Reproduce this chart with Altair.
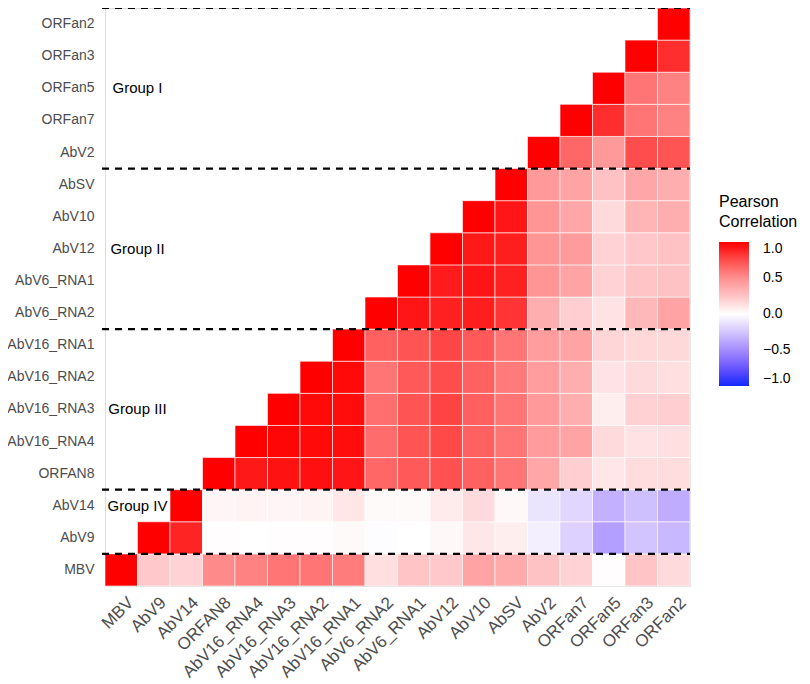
import altair as alt
import pandas as pd

order = ["MBV", "AbV9", "AbV14", "ORFAN8", "AbV16_RNA4", "AbV16_RNA3", "AbV16_RNA2",
         "AbV16_RNA1", "AbV6_RNA2", "AbV6_RNA1", "AbV12", "AbV10", "AbSV", "AbV2",
         "ORFan7", "ORFan5", "ORFan3", "ORFan2"]

# correlations of each row variable with itself and the variables to its right in `order`
r_MBV = [1.00, 0.22, 0.18, 0.52, 0.55, 0.60, 0.60, 0.57, 0.13, 0.24, 0.22, 0.40, 0.37, 0.25, 0.18, 0.01, 0.24, 0.15]
r_AbV9 = [1.00, 0.88, 0.01, 0.00, 0.01, 0.01, 0.02, -0.01, 0.00, 0.03, 0.10, 0.07, -0.07, -0.20, -0.42, -0.26, -0.31]
r_AbV14 = [1.00, 0.04, 0.05, 0.04, 0.05, 0.10, 0.02, 0.02, 0.08, 0.15, 0.03, -0.12, -0.18, -0.34, -0.28, -0.36]
r_ORFAN8 = [1.00, 0.92, 0.94, 0.95, 0.93, 0.65, 0.70, 0.73, 0.67, 0.60, 0.38, 0.20, 0.10, 0.14, 0.14]
r_AbV16_RNA4 = [1.00, 0.98, 0.97, 0.96, 0.63, 0.72, 0.76, 0.67, 0.60, 0.44, 0.40, 0.15, 0.12, 0.13]
r_AbV16_RNA3 = [1.00, 0.97, 0.96, 0.62, 0.72, 0.78, 0.68, 0.60, 0.45, 0.35, 0.07, 0.19, 0.20]
r_AbV16_RNA2 = [1.00, 0.97, 0.60, 0.70, 0.75, 0.67, 0.58, 0.43, 0.35, 0.12, 0.15, 0.13]
r_AbV16_RNA1 = [1.00, 0.67, 0.72, 0.77, 0.70, 0.60, 0.43, 0.40, 0.17, 0.16, 0.16]
r_AbV6_RNA2 = [1.00, 0.93, 0.89, 0.90, 0.83, 0.35, 0.20, 0.12, 0.30, 0.40]
r_AbV6_RNA1 = [1.00, 0.91, 0.93, 0.89, 0.47, 0.40, 0.18, 0.24, 0.25]
r_AbV12 = [1.00, 0.92, 0.90, 0.47, 0.44, 0.18, 0.23, 0.25]
r_AbV10 = [1.00, 0.93, 0.47, 0.38, 0.15, 0.32, 0.35]
r_AbSV = [1.00, 0.45, 0.40, 0.25, 0.38, 0.35]
r_AbV2 = [1.00, 0.65, 0.45, 0.75, 0.72]
r_ORFan7 = [1.00, 0.85, 0.60, 0.55]
r_ORFan5 = [1.00, 0.60, 0.55]
r_ORFan3 = [1.00, 0.85]
r_ORFan2 = [1.00]

rows = [r_MBV, r_AbV9, r_AbV14, r_ORFAN8, r_AbV16_RNA4, r_AbV16_RNA3, r_AbV16_RNA2,
        r_AbV16_RNA1, r_AbV6_RNA2, r_AbV6_RNA1, r_AbV12, r_AbV10, r_AbSV, r_AbV2,
        r_ORFan7, r_ORFan5, r_ORFan3, r_ORFan2]

group_labels = ["Group I", "Group II", "Group III", "Group IV"]
group_rows = ["ORFan5", "AbV12", "AbV16_RNA3", "AbV14"]
divider_rows = ["ORFan2", "AbSV", "AbV16_RNA1", "AbV14", "MBV"]

color_stops = [-1, -0.75, -0.5, -0.25, 0, 0.25, 0.5, 0.75, 1]
color_range = ["#1428FF", "#6A55FF", "#A48CFF", "#D4C6FF", "#FFFFFF",
               "#FFC2C4", "#FF8F8F", "#FF4C4C", "#FF0000"]

records = []
for i, name in enumerate(order):
    for j, v in enumerate(rows[i]):
        records.append({"row": name, "col": order[i + j], "r": v})
df = pd.DataFrame(records)
grp_df = pd.DataFrame({"row": group_rows, "label": group_labels})
div_df = pd.DataFrame({"row": divider_rows})

W, H = 585, 578
FONT = "Liberation Sans"
y_order = list(reversed(order))

x_scale = alt.Scale(domain=order, paddingInner=0, paddingOuter=0)
y_scale = alt.Scale(domain=y_order, paddingInner=0, paddingOuter=0)
x_axis = alt.Axis(title=None, labelAngle=-45, labelAlign="right", labelBaseline="top",
                  labelPadding=8, labelOffset=4, labelFontSize=17, labelColor="#4D4D4D",
                  labelFont=FONT, ticks=False, domain=False, grid=False)
y_axis = alt.Axis(title=None, labelPadding=11, labelFontSize=14, labelColor="#4D4D4D",
                  labelFont=FONT, ticks=False, domain=False, grid=False)

heat = alt.Chart(df).mark_rect(stroke="white", strokeWidth=0.6).encode(
    x=alt.X("col:N", scale=x_scale, axis=x_axis),
    y=alt.Y("row:N", scale=y_scale, axis=y_axis),
    color=alt.Color(
        "r:Q",
        scale=alt.Scale(domain=color_stops, range=color_range, interpolate="rgb"),
        legend=alt.Legend(
            title=["Pearson", "Correlation"], orient="none", legendX=614, legendY=186,
            direction="vertical", gradientLength=144, gradientThickness=30,
            values=[-1, -0.5, 0, 0.5, 1], format=".1f", labelFontSize=14,
            labelFont=FONT, labelColor="black", titleFont=FONT, titleFontSize=16,
            titleFontWeight="normal", titleColor="black", titleLineHeight=20,
            titlePadding=12, labelOffset=14, gradientStrokeWidth=0,
        ),
    ),
)

rules = alt.Chart(div_df).mark_rule(strokeDash=[7, 6], strokeWidth=2.2, color="black").encode(
    y=alt.Y("row:N", scale=y_scale, axis=y_axis, bandPosition=0),
    x=alt.value(-3),
    x2=alt.value(W),
)

texts = alt.Chart(grp_df).mark_text(align="center", baseline="middle", fontSize=15,
                                    font=FONT, color="black").encode(
    y=alt.Y("row:N", scale=y_scale, axis=y_axis),
    x=alt.value(32.5),
    text="label:N",
)

chart = alt.layer(heat, rules, texts).properties(
    width=W, height=H,
    autosize=alt.AutoSizeParams(type="none"),
    padding={"left": 97, "top": 0, "right": 112, "bottom": 96},
).configure_view(stroke=None).configure(font=FONT)

chart.save("out.html", embed_options={"renderer": "svg", "actions": False})
